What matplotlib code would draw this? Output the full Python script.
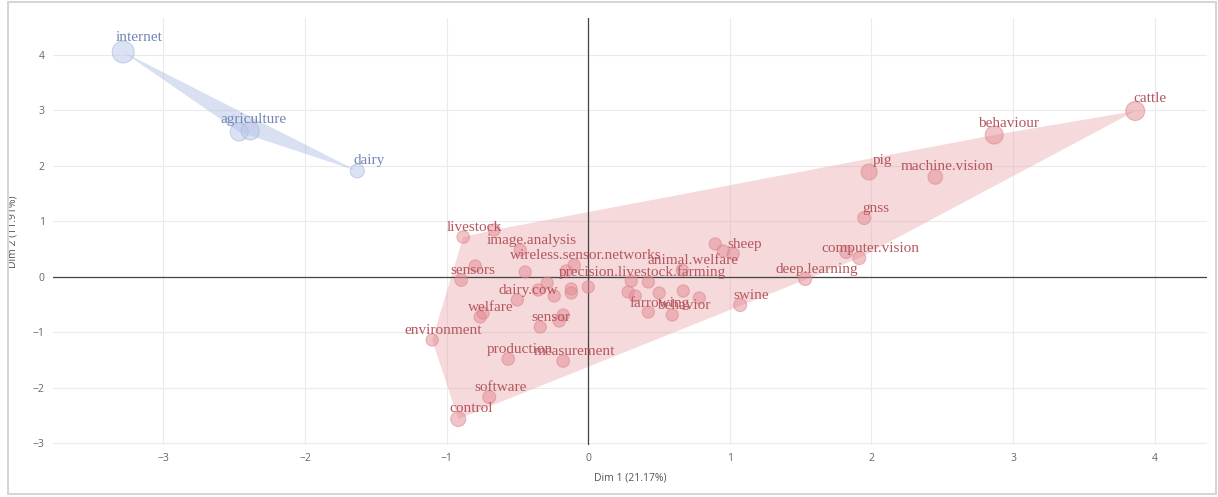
import numpy as np
import matplotlib.pyplot as plt
from matplotlib.patches import Polygon, Rectangle

# cluster 1 (blue) keywords
blue_words = ["internet", "agriculture", "", "dairy"]
blue_x = [-3.284, -2.465, -2.387, -1.631]
blue_y = [4.054, 2.611, 2.629, 1.907]
blue_q = [0.55, 0.35, 0.35, 0.15]

# cluster 2 (red) keywords
red_words = [
    "cattle", "behaviour", "pig", "machine.vision", "gnss", "computer.vision", "",
    "deep.learning", "swine", "sheep", "", "", "animal.welfare",
    "precision.livestock.farming", "", "", "", "", "", "", "farrowing", "behavior", "",
    "livestock", "", "image.analysis", "", "sensors", "", "wireless.sensor.networks",
    "", "", "", "", "", "", "dairy.cow", "welfare", "", "", "", "sensor",
    "environment", "production", "measurement", "software", "control",
]
red_x = [
    3.863, 2.867, 1.984, 2.451, 1.949, 1.914, 1.822,
    1.532, 1.073, 1.024, 0.897, 0.953, 0.664,
    0.304, 0.424, 0.282, 0.332, 0.501, 0.671, 0.784, 0.424, 0.593, 0.0,
    -0.883, -0.664, -0.480, -0.798, -0.897, -0.445, -0.099,
    -0.155, -0.290, -0.120, -0.120, -0.240, -0.353, -0.501, -0.763, -0.742, -0.177, -0.205, -0.339,
    -1.102, -0.565, -0.177, -0.699, -0.918,
]
red_y = [
    2.989, 2.556, 1.889, 1.799, 1.059, 0.337, 0.446,
    -0.041, -0.511, 0.410, 0.590, 0.464, 0.121,
    -0.078, -0.096, -0.276, -0.348, -0.294, -0.258, -0.384, -0.637, -0.691, -0.186,
    0.716, 0.843, 0.482, 0.193, -0.060, 0.085, 0.211,
    0.103, -0.114, -0.222, -0.294, -0.348, -0.240, -0.420, -0.727, -0.655, -0.691, -0.799, -0.907,
    -1.142, -1.485, -1.521, -2.170, -2.567,
]
red_q = [
    0.40, 0.35, 0.25, 0.18, 0.10, 0.10, 0.10,
    0.10, 0.10, 0.06, 0.06, 0.06, 0.06,
    0.06, 0.06, 0.06, 0.06, 0.06, 0.06, 0.06, 0.06, 0.06, 0.06,
    0.08, 0.06, 0.06, 0.06, 0.08, 0.06, 0.06,
    0.06, 0.06, 0.06, 0.06, 0.06, 0.06, 0.06, 0.06, 0.06, 0.06, 0.06, 0.06,
    0.06, 0.08, 0.08, 0.10, 0.20,
]

xlab = "Dim 1 (21.17%)"
ylab = "Dim 2 (11.91%)"


def hull(x, y):
    # monotone chain convex hull
    pts = sorted(set(zip(x, y)))

    def cross(o, a, b):
        return (a[0] - o[0]) * (b[1] - o[1]) - (a[1] - o[1]) * (b[0] - o[0])

    lower, upper = [], []
    for p in pts:
        while len(lower) >= 2 and cross(lower[-2], lower[-1], p) <= 0:
            lower.pop()
        lower.append(p)
    for p in reversed(pts):
        while len(upper) >= 2 and cross(upper[-2], upper[-1], p) <= 0:
            upper.pop()
        upper.append(p)
    return np.array(lower[:-1] + upper[:-1])


fig = plt.figure(figsize=(12.18, 4.97), dpi=100)
ax = fig.add_axes([0.0435, 0.1046, 0.9475, 0.8592])
ax.set_xlim(-3.78, 4.37)
ax.set_ylim(-3.036, 4.667)

groups = [
    (blue_x, blue_y, blue_q, blue_words, "#a0b2dc", "#b8c6e8", "#9fb0d8", "#7585b5"),
    (red_x, red_y, red_q, red_words, "#e8a0a6", "#e58b93", "#da7e86", "#b4575e"),
]

for gx, gy, gq, words, hull_col, face, edge, txt_col in groups:
    poly = Polygon(hull(gx, gy), closed=True, facecolor=hull_col, alpha=0.4,
                   edgecolor="none", zorder=1)
    ax.add_patch(poly)

    diam = 11 + 20 * np.array(gq)   # marker diameter in px
    ax.scatter(gx, gy, s=(diam * 0.72) ** 2, facecolor=face, edgecolor=edge,
               linewidth=0.8, alpha=0.5, zorder=3)

    for xi, yi, w, d in zip(gx, gy, words, diam):
        if not w:
            continue
        r = d / 2
        ax.annotate(w, (xi, yi), xytext=(r + 5, r + 3), textcoords="offset pixels",
                    ha="center", va="center", fontsize=11, color=txt_col,
                    family="Liberation Serif", zorder=4)

# zero lines
ax.axhline(0, color="#444444", lw=0.9, zorder=2)
ax.axvline(0, color="#444444", lw=0.9, zorder=2)

ax.set_xticks(np.arange(-3, 5))
ax.set_yticks(np.arange(-3, 5))
ax.grid(True, color="#ebebeb", lw=0.8, zorder=0)
ax.set_axisbelow(True)
for s in ax.spines.values():
    s.set_visible(False)
ax.tick_params(length=0, labelsize=7.5, labelcolor="#666666", pad=6)
for lbl in ax.get_xticklabels() + ax.get_yticklabels():
    lbl.set_family("Open Sans")
ax.set_xticklabels([str(v).replace("-", "\u2212") for v in range(-3, 5)])
ax.set_yticklabels([str(v).replace("-", "\u2212") for v in range(-3, 5)])

ax.set_xlabel(xlab, fontsize=7.5, color="#555555", family="Open Sans", labelpad=6)
ax.set_ylabel(ylab, fontsize=7.5, color="#555555", family="Open Sans", labelpad=10)

# light frame round the whole figure
fig.patches.append(Rectangle((8 / 1218, 3 / 497), 1208 / 1218, 492 / 497,
                             transform=fig.transFigure, fill=False,
                             edgecolor="#d6d6d6", lw=1.5))

fig.savefig("out.png", dpi=100)
